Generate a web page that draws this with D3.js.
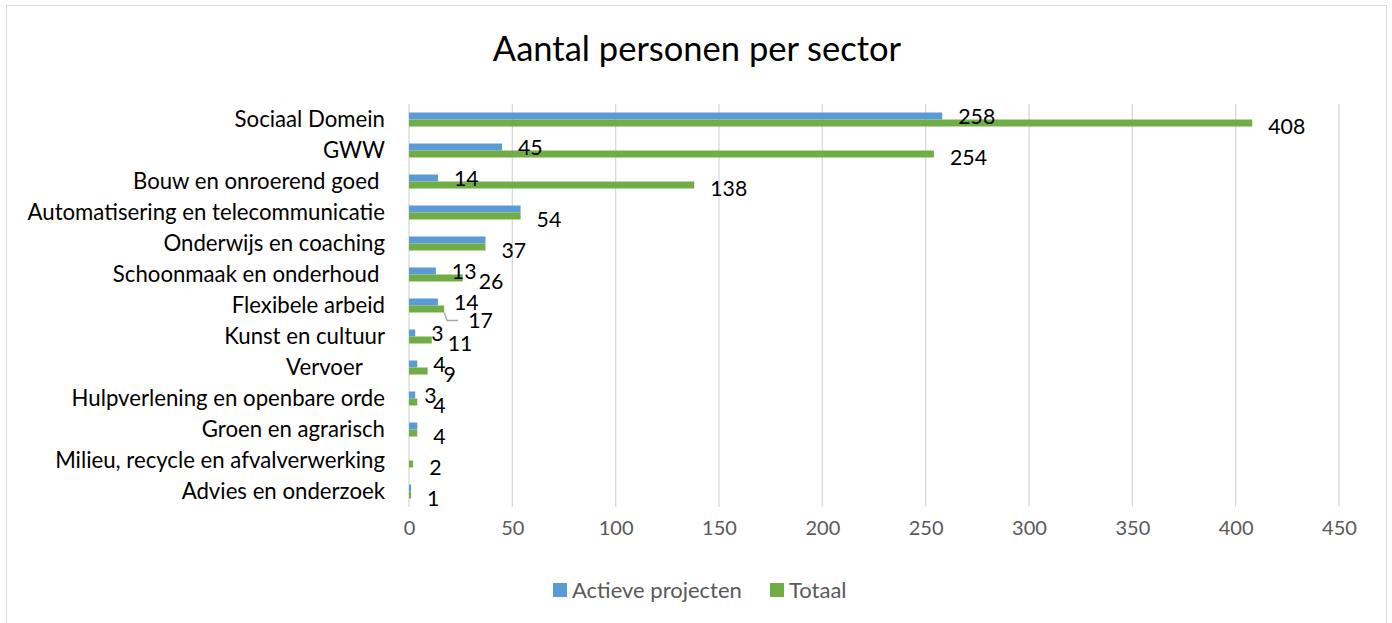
<!DOCTYPE html>
<html>
<head>
<meta charset="utf-8">
<script src="https://cdn.jsdelivr.net/npm/d3@7"></script>
<style>
  body { margin: 0; background: #fff; }
  text { font-family: Lato, "Open Sans", sans-serif; }
</style>
</head>
<body>
<div id="graph"></div>
<script>
var sectors = ["Sociaal Domein", "GWW", "Bouw en onroerend goed ", "Automatisering en telecommunicatie",
    "Onderwijs en coaching", "Schoonmaak en onderhoud ", "Flexibele arbeid", "Kunst en cultuur",
    "Vervoer    ", "Hulpverlening en openbare orde", "Groen en agrarisch",
    "Milieu, recycle en afvalverwerking", "Advies en onderzoek"];
var actieve = [258, 45, 14, 54, 37, 13, 14, 3, 4, 3, 4, null, 1];
var totaal = [408, 254, 138, 54, 37, 26, 17, 11, 9, 4, 4, 2, 1];
var seriesNames = ["Actieve projecten", "Totaal"];
var xTicks = [0, 50, 100, 150, 200, 250, 300, 350, 400, 450];

var width = 1392, height = 623;
var colors = ["#5b9bd5", "#70ad47"];

var svg = d3.select("#graph").append("svg")
    .attr("width", width)
    .attr("height", height);

// chart border
svg.append("rect")
    .attr("x", 6.5).attr("y", 5.5)
    .attr("width", 1380).attr("height", 630)
    .attr("fill", "none")
    .attr("stroke", "#d9d9d9");

svg.append("text")
    .attr("x", 697).attr("y", 61)
    .attr("text-anchor", "middle")
    .attr("font-size", 34.5)
    .attr("fill", "#000")
    .text("Aantal personen per sector");

var x = d3.scaleLinear().domain([0, 450]).range([409, 1339]);
var y = d3.scaleBand().domain(d3.range(sectors.length)).range([104, 507]);
var barH = 7;

// gridlines
svg.append("g").selectAll("line")
    .data(xTicks)
    .enter().append("line")
    .attr("x1", function(d) { return x(d); })
    .attr("x2", function(d) { return x(d); })
    .attr("y1", 104).attr("y2", 507)
    .attr("stroke", "#d9d9d9")
    .attr("stroke-width", 1.3);

// x axis labels
var xAxis = svg.append("g")
    .attr("transform", "translate(0,507)")
    .call(d3.axisBottom(x).tickValues(xTicks).tickSize(0).tickPadding(14));
xAxis.select(".domain").remove();
xAxis.selectAll("text")
    .attr("font-size", 20)
    .attr("fill", "#595959")
    .style("font-family", "Lato, 'Open Sans', sans-serif");

// category labels
svg.append("g").selectAll("text")
    .data(sectors)
    .enter().append("text")
    .attr("x", 385)
    .attr("y", function(d, i) { return y(i) + y.bandwidth() / 2; })
    .attr("dy", "0.35em")
    .attr("text-anchor", "end")
    .attr("font-size", 22.2)
    .attr("fill", "#000")
    .style("white-space", "pre")
    .text(function(d) { return d; });

var series = [actieve, totaal];
series.forEach(function(vals, s) {
    var rows = vals.map(function(v, i) { return { v: v, i: i }; })
        .filter(function(d) { return d.v != null; });
    svg.append("g").selectAll("rect")
        .data(rows)
        .enter().append("rect")
        .attr("x", x(0))
        .attr("y", function(d) { return y(d.i) + y.bandwidth() / 2 - barH + s * barH; })
        .attr("width", function(d) { return x(d.v) - x(0); })
        .attr("height", barH)
        .attr("fill", colors[s]);
});

// data labels
series.forEach(function(vals, s) {
    vals.forEach(function(d, i) {
        if (d == null) return;
        // equal values share one label
        if (s === 0 && d === totaal[i]) return;
        var cy = y(i) + y.bandwidth() / 2 + (s === 0 ? -barH / 2 + 1 : barH / 2 + 3.5);
        var lx = x(d) + 16;
        if (s === 0 && i === 9) lx = x(d) + 9;
        if (s === 1 && i === 6) {
            // label pulled aside with a leader line
            cy += 8;
            lx += 8;
            svg.append("path")
                .attr("d", "M" + x(d) + "," + (cy - 8) + "L" + (x(d) + 3) + "," + cy + "L" + (lx - 10) + "," + cy)
                .attr("fill", "none")
                .attr("stroke", "#a6a6a6")
                .attr("stroke-width", 1.3);
        }
        svg.append("text")
            .attr("x", lx)
            .attr("y", cy)
            .attr("dy", "0.35em")
            .attr("font-size", 21.3)
            .attr("fill", "#000")
            .text(d);
    });
});

// legend
var legend = svg.append("g");
var legendX = [553, 770];
seriesNames.forEach(function(name, s) {
    legend.append("rect")
        .attr("x", legendX[s]).attr("y", 583)
        .attr("width", 14).attr("height", 14)
        .attr("fill", colors[s]);
    legend.append("text")
        .attr("x", legendX[s] + 19).attr("y", 590)
        .attr("dy", "0.35em")
        .attr("font-size", 22)
        .attr("fill", "#595959")
        .text(name);
});
</script>
</body>
</html>
